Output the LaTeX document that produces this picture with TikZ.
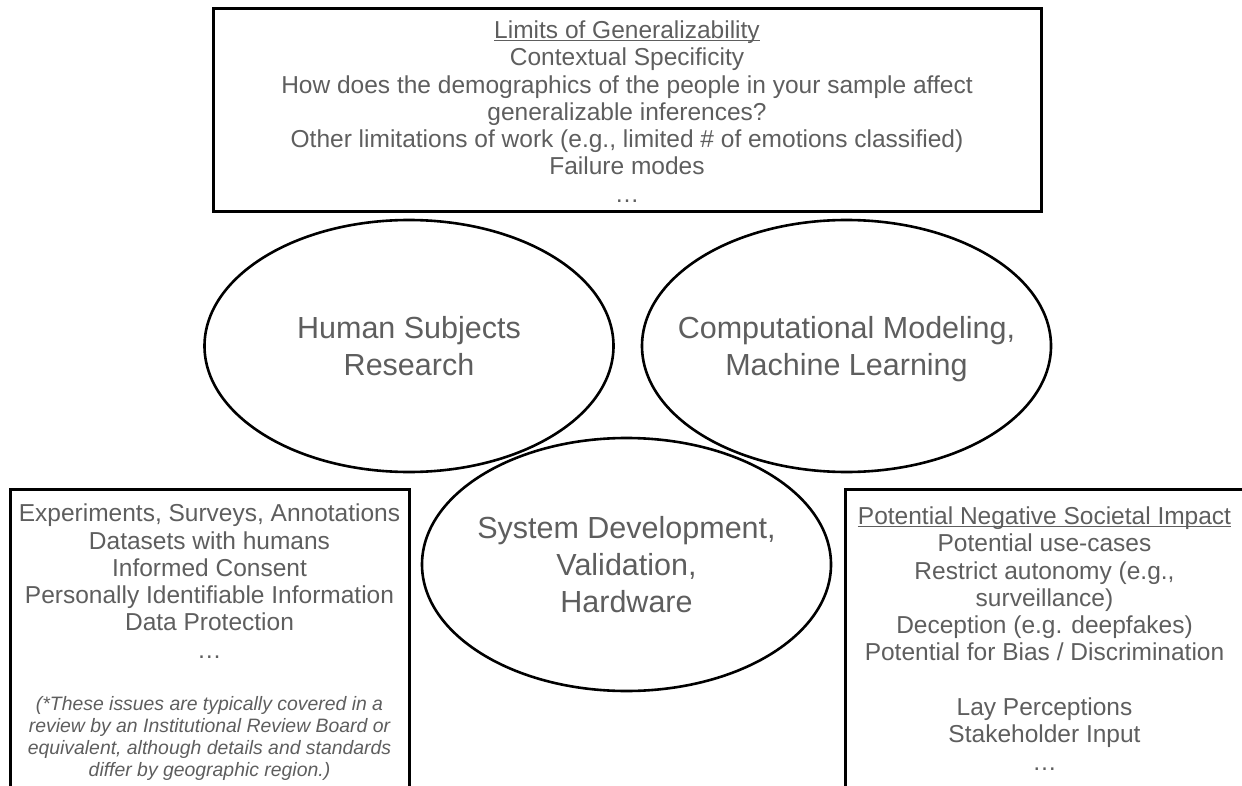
\documentclass[tikz,border=0pt]{standalone}
\usepackage{fontspec}
\setmainfont{Liberation Sans}
\usetikzlibrary{shapes.geometric}
\definecolor{inkgray}{RGB}{94,94,94}
% underline that sits just below the baseline
\newcommand\headline[1]{\setbox0\hbox{#1}\rlap{\color{inkgray}\rule[-2.8pt]{\wd0}{1.1pt}}\box0}

\begin{document}
\begin{tikzpicture}[x=1pt,y=-1pt,
  frame/.style={draw=black, line width=3pt, rectangle, inner sep=0pt},
  bubble/.style={ellipse, draw=black, line width=2.6pt, minimum width=409pt,
    minimum height=252pt, inner sep=0pt},
  bubbletext/.style={align=center, inner sep=0pt, text=inkgray,
    text depth=0pt, font=\fontsize{30.5}{37}\selectfont},
  listtext/.style={align=center, inner sep=0pt, anchor=north, text=inkgray,
    font=\fontsize{24.5}{27.3}\selectfont},
  notetext/.style={align=center, inner sep=0pt, anchor=north, text=inkgray,
    font=\fontsize{19.4}{22}\selectfont\itshape}
]
\useasboundingbox (0,0) rectangle (1242,786);
\clip (0,0) rectangle (1242,786);

% frames
\node[frame, minimum width=828pt, minimum height=203pt] (limitsbox) at (627,110.5) {};
\node[frame, minimum width=399pt, minimum height=341pt] (humanbox) at (209.5,659.5) {};
\node[frame, minimum width=405pt, minimum height=341pt] (impactbox) at (1047.5,659.5) {};

% the three research areas
\node[bubble] (human) at (409,346) {};
\node[bubble] (compute) at (846.5,346) {};
\node[bubble, minimum height=253pt] (system) at (626.5,564.5) {};
\node[bubbletext] (humanlabel) at (human.center) {Human Subjects\\Research};
\node[bubbletext] (computelabel) at (compute.center) {Computational Modeling,\\Machine Learning};
\node[bubbletext] (systemlabel) at (system.center) {System Development,\\Validation,\\Hardware};

% box contents
\node[listtext] (limits) at (627,20.5) {\headline{Limits of Generalizability}\\
  Contextual Specificity\\
  How does the demographics of the people in your sample affect\\
  generalizable inferences?\\
  Other limitations of work (e.g., limited \# of emotions classified)\\
  Failure modes\\
  …};

\node[listtext] (humanlist) at (209.5,503.8) {Experiments, Surveys, Annotations\\
  Datasets with humans\\
  Informed Consent\\
  Personally Identifiable Information\\
  Data Protection\\
  …};

\node[notetext] (irbnote) at (209.5,695.8) {(*These issues are typically covered in a\\
  review by an Institutional Review Board or\\
  equivalent, although details and standards\\
  differ by geographic region.)};

\node[listtext] (impactlist) at (1044.5,506.5) {\headline{Potential Negative Societal Impact}\\
  Potential use-cases\\
  Restrict autonomy (e.g.,\\
  surveillance)\\
  Deception (e.g. deepfakes)\\
  Potential for Bias / Discrimination\\[27.3pt]
  Lay Perceptions\\
  Stakeholder Input\\
  …};
\end{tikzpicture}
\end{document}
